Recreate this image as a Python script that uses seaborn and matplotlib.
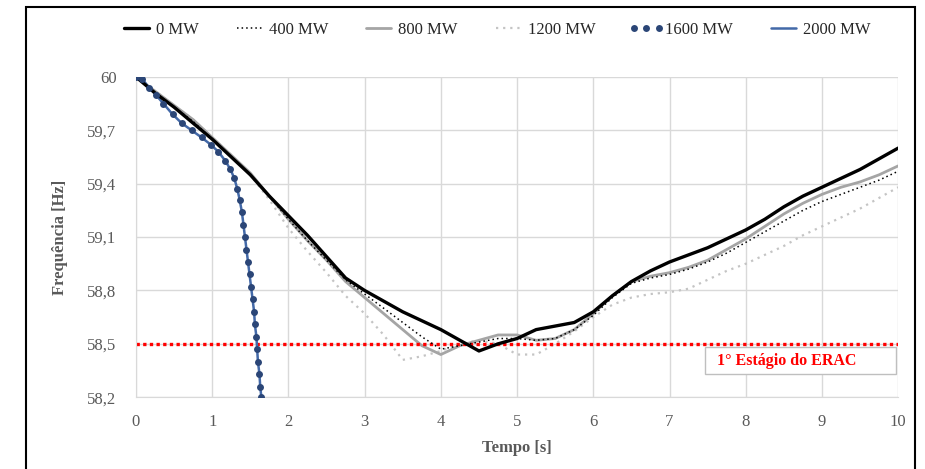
import numpy as np
import pandas as pd
import matplotlib.pyplot as plt
import seaborn as sns
from matplotlib.patches import Rectangle

# Data (time in s, frequency in Hz)
t_main = [0.0, 0.25, 0.5, 0.75, 1.0, 1.25, 1.5, 1.75, 2.0, 2.25, 2.5, 2.75, 3.0,
          3.25, 3.5, 3.75, 4.0, 4.25, 4.5, 4.75, 5.0, 5.25, 5.5, 5.75, 6.0, 6.25,
          6.5, 6.75, 7.0, 7.25, 7.5, 7.75, 8.0, 8.25, 8.5, 8.75, 9.0, 9.25, 9.5,
          9.75, 10.0]
f_0 = [60.0, 59.91, 59.83, 59.74, 59.65, 59.55, 59.45, 59.33, 59.22, 59.11, 58.99,
       58.87, 58.8, 58.74, 58.68, 58.63, 58.58, 58.52, 58.46, 58.5, 58.53, 58.58,
       58.6, 58.62, 58.68, 58.77, 58.85, 58.91, 58.96, 59.0, 59.04, 59.09, 59.14,
       59.2, 59.27, 59.33, 59.38, 59.43, 59.48, 59.54, 59.6]
f_400 = [60.0, 59.91, 59.83, 59.75, 59.65, 59.55, 59.45, 59.33, 59.2, 59.08, 58.97,
         58.86, 58.78, 58.7, 58.62, 58.54, 58.47, 58.49, 58.51, 58.53, 58.53, 58.52,
         58.53, 58.58, 58.66, 58.76, 58.84, 58.87, 58.89, 58.92, 58.96, 59.01, 59.07,
         59.13, 59.19, 59.25, 59.3, 59.34, 59.38, 59.42, 59.47]
f_800 = [60.0, 59.92, 59.84, 59.76, 59.66, 59.56, 59.46, 59.33, 59.2, 59.08, 58.97,
         58.85, 58.76, 58.67, 58.58, 58.49, 58.44, 58.49, 58.52, 58.55, 58.55, 58.52,
         58.53, 58.58, 58.67, 58.77, 58.85, 58.88, 58.9, 58.93, 58.97, 59.03, 59.09,
         59.16, 59.23, 59.29, 59.34, 59.38, 59.41, 59.45, 59.5]
f_1200 = [60.0, 59.92, 59.84, 59.76, 59.66, 59.56, 59.45, 59.31, 59.15, 59.02, 58.9,
          58.77, 58.67, 58.55, 58.41, 58.43, 58.46, 58.5, 58.52, 58.5, 58.44, 58.44,
          58.5, 58.57, 58.65, 58.72, 58.76, 58.78, 58.79, 58.81, 58.86, 58.91, 58.95,
          59.0, 59.05, 59.11, 59.16, 59.21, 59.26, 59.32, 59.38]

t_col = [0.0, 0.08, 0.17, 0.26, 0.36, 0.48, 0.6, 0.73, 0.86, 0.98, 1.08, 1.17,
         1.24, 1.29, 1.33, 1.36, 1.39, 1.41, 1.43, 1.45, 1.47, 1.49, 1.51, 1.53,
         1.55, 1.56, 1.58, 1.59, 1.6, 1.62, 1.63, 1.645]
f_1600 = [60.0, 59.99, 59.94, 59.9, 59.85, 59.79, 59.74, 59.7, 59.66, 59.62,
          59.58, 59.53, 59.48, 59.43, 59.37, 59.31, 59.24, 59.17, 59.1, 59.03,
          58.96, 58.89, 58.82, 58.75, 58.68, 58.61, 58.54, 58.47, 58.4, 58.33,
          58.26, 58.2]
f_2000 = list(f_1600)

erac_level = 58.5
x_ticks = list(range(0, 11))
y_ticks = [58.2, 58.5, 58.8, 59.1, 59.4, 59.7, 60.0]
y_labels = ["58,2", "58,5", "58,8", "59,1", "59,4", "59,7", "60"]

sns.set_style("white")
plt.rcParams['font.family'] = ['Liberation Serif', 'DejaVu Serif']

fig = plt.figure(figsize=(9.25, 4.69), dpi=100)
ax = fig.add_axes([0.147, 0.153, 0.824, 0.683])

txt = "#595959"

sns.lineplot(x=t_col, y=f_2000, ax=ax, color="#4369A8", lw=1.8, sort=False,
             label="2000 MW", zorder=3)
sns.lineplot(x=t_col, y=f_1600, ax=ax, color="#2B4677", lw=0, marker="o",
             markersize=5, markeredgewidth=0, sort=False, label="1600 MW", zorder=4)
sns.lineplot(x=t_main, y=f_1200, ax=ax, color="#C4C4C4", lw=1.6, ls=(0, (1, 2.2)),
             sort=False, label="1200 MW", zorder=2)
sns.lineplot(x=t_main, y=f_800, ax=ax, color="#A5A5A5", lw=2.0, sort=False,
             label="800 MW", zorder=2)
sns.lineplot(x=t_main, y=f_400, ax=ax, color="black", lw=1.1, ls=(0, (1, 2)),
             sort=False, label="400 MW", zorder=3)
sns.lineplot(x=t_main, y=f_0, ax=ax, color="black", lw=2.4, sort=False,
             label="0 MW", zorder=3)

ax.axhline(erac_level, color="#FF0000", lw=2.4, ls=(0, (1, 1)), zorder=2)

# ERAC label box
ax.add_patch(Rectangle((7.47, 58.33), 2.5, 0.15, fc="white", ec="#BFBFBF", lw=1,
                       zorder=5))
ax.text(7.62, 58.405, "1° Estágio do ERAC", color="#FF0000", fontsize=11.5,
        fontweight="bold", va="center", ha="left", zorder=6)

ax.set_xlim(0, 10)
ax.set_ylim(58.2, 60.0)
ax.set_xticks(x_ticks)
ax.set_yticks(y_ticks)
ax.set_yticklabels(y_labels)
ax.tick_params(axis="x", labelsize=12, labelcolor=txt, length=0, pad=12)
ax.tick_params(axis="y", labelsize=12, labelcolor=txt, length=0, pad=14)
ax.grid(True, color="#D9D9D9", lw=1)
ax.set_axisbelow(True)
for s in ["top", "right"]:
    ax.spines[s].set_visible(False)
for s in ["left", "bottom"]:
    ax.spines[s].set_color("#D9D9D9")

ax.set_xlabel("Tempo [s]", fontsize=12, fontweight="bold", color=txt, labelpad=7)
ax.set_ylabel("Frequência [Hz]", fontsize=12, fontweight="bold", color=txt, labelpad=14)

handles, labels = ax.get_legend_handles_labels()
order = ["0 MW", "400 MW", "800 MW", "1200 MW", "1600 MW", "2000 MW"]
hmap = dict(zip(labels, handles))
ax.legend([hmap[k] for k in order], order, loc="center", bbox_to_anchor=(0.535, 0.937),
          bbox_transform=fig.transFigure, ncol=6, frameon=False, fontsize=12,
          handlelength=2.1, handletextpad=0.1, columnspacing=2.0, numpoints=3,
          labelcolor="#262626")

# outer frame of the figure
fig.patches.append(Rectangle((26 / 925, -0.05), (915 - 26) / 925, 1.05 - 7 / 469,
                             transform=fig.transFigure, fill=False, ec="black",
                             lw=1.5))

fig.savefig("out.png", dpi=100)
